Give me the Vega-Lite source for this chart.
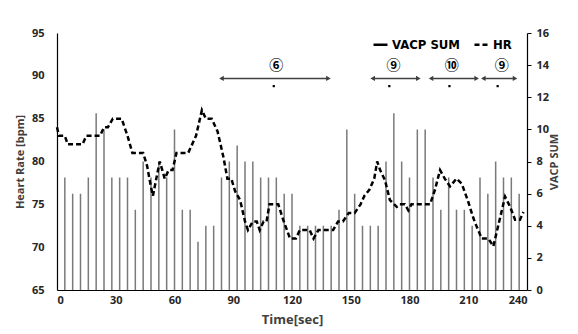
{
  "$schema": "https://vega.github.io/schema/vega-lite/v6.json",
  "width": 470,
  "height": 257,
  "autosize": "none",
  "padding": {"left": 57, "top": 33, "right": 51, "bottom": 44},
  "background": "white",
  "config": {
    "view": {"stroke": null},
    "font": "Open Sans",
    "axis": {
      "labelFont": "Open Sans", "labelFontWeight": "bold", "labelFontSize": 11, "labelColor": "#262626",
      "titleFont": "Open Sans", "titleFontWeight": "bold", "titleColor": "#404040",
      "domainColor": "#000", "domainWidth": 1.2, "grid": false
    },
    "axisBottom": {"ticks": false, "labelPadding": 4, "titleFontSize": 13, "titlePadding": 8},
    "axisLeft": {"ticks": false, "labelPadding": 13, "titleFontSize": 11, "titlePadding": 6, "grid": true, "gridColor": "#dcdcdc", "gridWidth": 1},
    "axisRight": {"ticks": true, "tickSize": 4, "tickColor": "#000", "labelPadding": 5, "titleFontSize": 11, "titlePadding": 11, "titleAngle": -90},
    "legend": {
      "orient": "none", "legendX": 315, "legendY": 3, "direction": "horizontal",
      "symbolType": "stroke", "symbolStrokeColor": "#000", "symbolStrokeWidth": 2.5, "symbolSize": 196,
      "labelFont": "DejaVu Sans Condensed", "labelFontWeight": "bold", "labelFontSize": 13, "labelColor": "#000",
      "columnPadding": 8, "symbolOffset": 0, "labelOffset": 3
    }
  },
  "datasets": {
    "vacp": [
      {"t": 4, "v": 7}, {"t": 8, "v": 6}, {"t": 12, "v": 6}, {"t": 16, "v": 7}, {"t": 20, "v": 11},
      {"t": 24, "v": 10}, {"t": 28, "v": 7}, {"t": 32, "v": 7}, {"t": 36, "v": 7}, {"t": 40, "v": 5},
      {"t": 44, "v": 8}, {"t": 48, "v": 7}, {"t": 52, "v": 8}, {"t": 56, "v": 7}, {"t": 60, "v": 10},
      {"t": 64, "v": 5}, {"t": 68, "v": 5}, {"t": 72, "v": 3}, {"t": 76, "v": 4}, {"t": 80, "v": 4},
      {"t": 84, "v": 7}, {"t": 88, "v": 8}, {"t": 92, "v": 9}, {"t": 96, "v": 8}, {"t": 100, "v": 8},
      {"t": 104, "v": 7}, {"t": 108, "v": 7}, {"t": 112, "v": 7}, {"t": 116, "v": 6}, {"t": 120, "v": 6},
      {"t": 124, "v": 4}, {"t": 128, "v": 4}, {"t": 132, "v": 4}, {"t": 136, "v": 4}, {"t": 140, "v": 4},
      {"t": 144, "v": 5}, {"t": 148, "v": 10}, {"t": 152, "v": 6}, {"t": 156, "v": 4}, {"t": 160, "v": 4},
      {"t": 164, "v": 4}, {"t": 168, "v": 8}, {"t": 172, "v": 11}, {"t": 176, "v": 8}, {"t": 180, "v": 7},
      {"t": 184, "v": 10}, {"t": 188, "v": 10}, {"t": 192, "v": 7}, {"t": 196, "v": 5}, {"t": 200, "v": 7},
      {"t": 204, "v": 5}, {"t": 208, "v": 5}, {"t": 212, "v": 4}, {"t": 216, "v": 7}, {"t": 220, "v": 6},
      {"t": 224, "v": 8}, {"t": 228, "v": 7}, {"t": 232, "v": 7}, {"t": 236, "v": 6}
    ],
    "hr": [
      {"t": 0, "hr": 84}, {"t": 1, "hr": 83}, {"t": 4, "hr": 83}, {"t": 5.5, "hr": 82}, {"t": 13, "hr": 82},
      {"t": 15, "hr": 83}, {"t": 22, "hr": 83}, {"t": 24, "hr": 84}, {"t": 26, "hr": 84}, {"t": 28.5, "hr": 85},
      {"t": 33, "hr": 85}, {"t": 36, "hr": 83}, {"t": 38.5, "hr": 81}, {"t": 44, "hr": 81}, {"t": 46, "hr": 79.5},
      {"t": 48, "hr": 77}, {"t": 49, "hr": 76}, {"t": 50.7, "hr": 78}, {"t": 52.5, "hr": 80}, {"t": 55, "hr": 78},
      {"t": 57, "hr": 79}, {"t": 59, "hr": 79}, {"t": 61, "hr": 81}, {"t": 67, "hr": 81}, {"t": 69, "hr": 82},
      {"t": 71, "hr": 83}, {"t": 74, "hr": 86}, {"t": 76, "hr": 85}, {"t": 79, "hr": 85}, {"t": 82, "hr": 83.5},
      {"t": 85, "hr": 80.5}, {"t": 87, "hr": 78}, {"t": 89, "hr": 78}, {"t": 91, "hr": 76.5}, {"t": 93.5, "hr": 75.5},
      {"t": 96, "hr": 73}, {"t": 97.5, "hr": 72}, {"t": 100, "hr": 73}, {"t": 102, "hr": 73}, {"t": 103.5, "hr": 72},
      {"t": 105.5, "hr": 73}, {"t": 107, "hr": 73}, {"t": 108.5, "hr": 75}, {"t": 113, "hr": 75}, {"t": 115.5, "hr": 73.2},
      {"t": 119, "hr": 71}, {"t": 122, "hr": 71}, {"t": 124, "hr": 72}, {"t": 129, "hr": 72}, {"t": 131, "hr": 71},
      {"t": 133.5, "hr": 72}, {"t": 141, "hr": 72}, {"t": 143.5, "hr": 73}, {"t": 146, "hr": 73}, {"t": 149, "hr": 74},
      {"t": 152, "hr": 74}, {"t": 155, "hr": 75}, {"t": 157, "hr": 76}, {"t": 159.5, "hr": 76.7}, {"t": 162, "hr": 78},
      {"t": 163.5, "hr": 80}, {"t": 165, "hr": 79}, {"t": 167.5, "hr": 77.8}, {"t": 170, "hr": 75.5}, {"t": 173.5, "hr": 74.7},
      {"t": 175, "hr": 75}, {"t": 177.6, "hr": 75}, {"t": 179.4, "hr": 74.3}, {"t": 181, "hr": 75}, {"t": 190.5, "hr": 75},
      {"t": 193, "hr": 76.7}, {"t": 195.6, "hr": 79}, {"t": 198, "hr": 78}, {"t": 200.7, "hr": 77.1}, {"t": 204, "hr": 78},
      {"t": 206.7, "hr": 77.4}, {"t": 210, "hr": 75.3}, {"t": 212.6, "hr": 73.4}, {"t": 214.3, "hr": 72.4}, {"t": 216.9, "hr": 71},
      {"t": 220.3, "hr": 71}, {"t": 222.8, "hr": 70.1}, {"t": 225.4, "hr": 72.6}, {"t": 228.8, "hr": 75.9}, {"t": 231.4, "hr": 74.7},
      {"t": 233.9, "hr": 73.2}, {"t": 236.4, "hr": 73.2}, {"t": 238.2, "hr": 74.1}
    ],
    "ann": [
      {"a": 84, "b": 138.6, "lx": 112, "dx": 110.7, "label": "⑥"},
      {"a": 161.2, "b": 184.5, "lx": 171.8, "dx": 169.7, "label": "⑨"},
      {"a": 191, "b": 214.3, "lx": 201.6, "dx": 200.4, "label": "⑩"},
      {"a": 217.7, "b": 233.9, "lx": 227.1, "dx": 225, "label": "⑨"}
    ]
  },
  "layer": [
    {
      "data": {"name": "vacp"},
      "mark": {"type": "rule", "color": "#7a7a7a", "strokeWidth": 1.5},
      "encoding": {
        "x": {"field": "t", "type": "quantitative", "scale": {"domain": [0, 240], "nice": false},
              "axis": {"title": "Time[sec]", "values": [0, 30, 60, 90, 120, 150, 180, 210, 240]}},
        "y": {"field": "v", "type": "quantitative", "scale": {"domain": [0, 16], "nice": false},
              "axis": {"orient": "right", "title": "VACP SUM", "values": [0, 2, 4, 6, 8, 10, 12, 14, 16]}},
        "y2": {"datum": 0},
        "strokeDash": {"datum": "VACP SUM", "type": "nominal",
                       "scale": {"domain": ["VACP SUM", "HR"], "range": [[1, 0], [5, 3]]},
                       "legend": {"title": null}}
      }
    },
    {
      "layer": [
        {
          "data": {"name": "hr"},
          "mark": {"type": "line", "color": "#000", "strokeWidth": 2.5},
          "encoding": {
            "x": {"field": "t", "type": "quantitative",
                  "axis": {"title": "Time[sec]", "values": [0, 30, 60, 90, 120, 150, 180, 210, 240]}},
            "y": {"field": "hr", "type": "quantitative", "scale": {"domain": [65, 95], "nice": false},
                  "axis": {"orient": "left", "title": "Heart Rate [bpm]", "values": [65, 70, 75, 80, 85, 90, 95]}},
            "strokeDash": {"datum": "HR", "type": "nominal"}
          }
        },
        {
          "data": {"name": "ann"},
          "mark": {"type": "rule", "color": "#404040", "strokeWidth": 1.5},
          "encoding": {
            "x": {"field": "a", "type": "quantitative",
                  "axis": {"title": "Time[sec]", "values": [0, 30, 60, 90, 120, 150, 180, 210, 240]}},
            "x2": {"field": "b"},
            "y": {"datum": 89.7, "type": "quantitative",
                  "axis": {"orient": "left", "title": "Heart Rate [bpm]", "values": [65, 70, 75, 80, 85, 90, 95]}}
          }
        },
        {
          "data": {"name": "ann"},
          "mark": {"type": "point", "shape": "triangle-left", "filled": true, "color": "#404040", "size": 28, "opacity": 1},
          "encoding": {
            "x": {"field": "a", "type": "quantitative",
                  "axis": {"title": "Time[sec]", "values": [0, 30, 60, 90, 120, 150, 180, 210, 240]}},
            "y": {"datum": 89.7, "type": "quantitative",
                  "axis": {"orient": "left", "title": "Heart Rate [bpm]", "values": [65, 70, 75, 80, 85, 90, 95]}}
          }
        },
        {
          "data": {"name": "ann"},
          "mark": {"type": "point", "shape": "triangle-right", "filled": true, "color": "#404040", "size": 28, "opacity": 1},
          "encoding": {
            "x": {"field": "b", "type": "quantitative",
                  "axis": {"title": "Time[sec]", "values": [0, 30, 60, 90, 120, 150, 180, 210, 240]}},
            "y": {"datum": 89.7, "type": "quantitative",
                  "axis": {"orient": "left", "title": "Heart Rate [bpm]", "values": [65, 70, 75, 80, 85, 90, 95]}}
          }
        },
        {
          "data": {"name": "ann"},
          "mark": {"type": "text", "font": "Noto Sans CJK JP", "fontSize": 14, "fontWeight": "bold", "color": "#000"},
          "encoding": {
            "x": {"field": "lx", "type": "quantitative",
                  "axis": {"title": "Time[sec]", "values": [0, 30, 60, 90, 120, 150, 180, 210, 240]}},
            "y": {"datum": 91.2, "type": "quantitative",
                  "axis": {"orient": "left", "title": "Heart Rate [bpm]", "values": [65, 70, 75, 80, 85, 90, 95]}},
            "text": {"field": "label"}
          }
        },
        {
          "data": {"name": "ann"},
          "mark": {"type": "square", "filled": true, "color": "#000", "size": 5, "opacity": 1},
          "encoding": {
            "x": {"field": "dx", "type": "quantitative",
                  "axis": {"title": "Time[sec]", "values": [0, 30, 60, 90, 120, 150, 180, 210, 240]}},
            "y": {"datum": 88.8, "type": "quantitative",
                  "axis": {"orient": "left", "title": "Heart Rate [bpm]", "values": [65, 70, 75, 80, 85, 90, 95]}}
          }
        }
      ]
    }
  ],
  "resolve": {"scale": {"y": "independent"}}
}
